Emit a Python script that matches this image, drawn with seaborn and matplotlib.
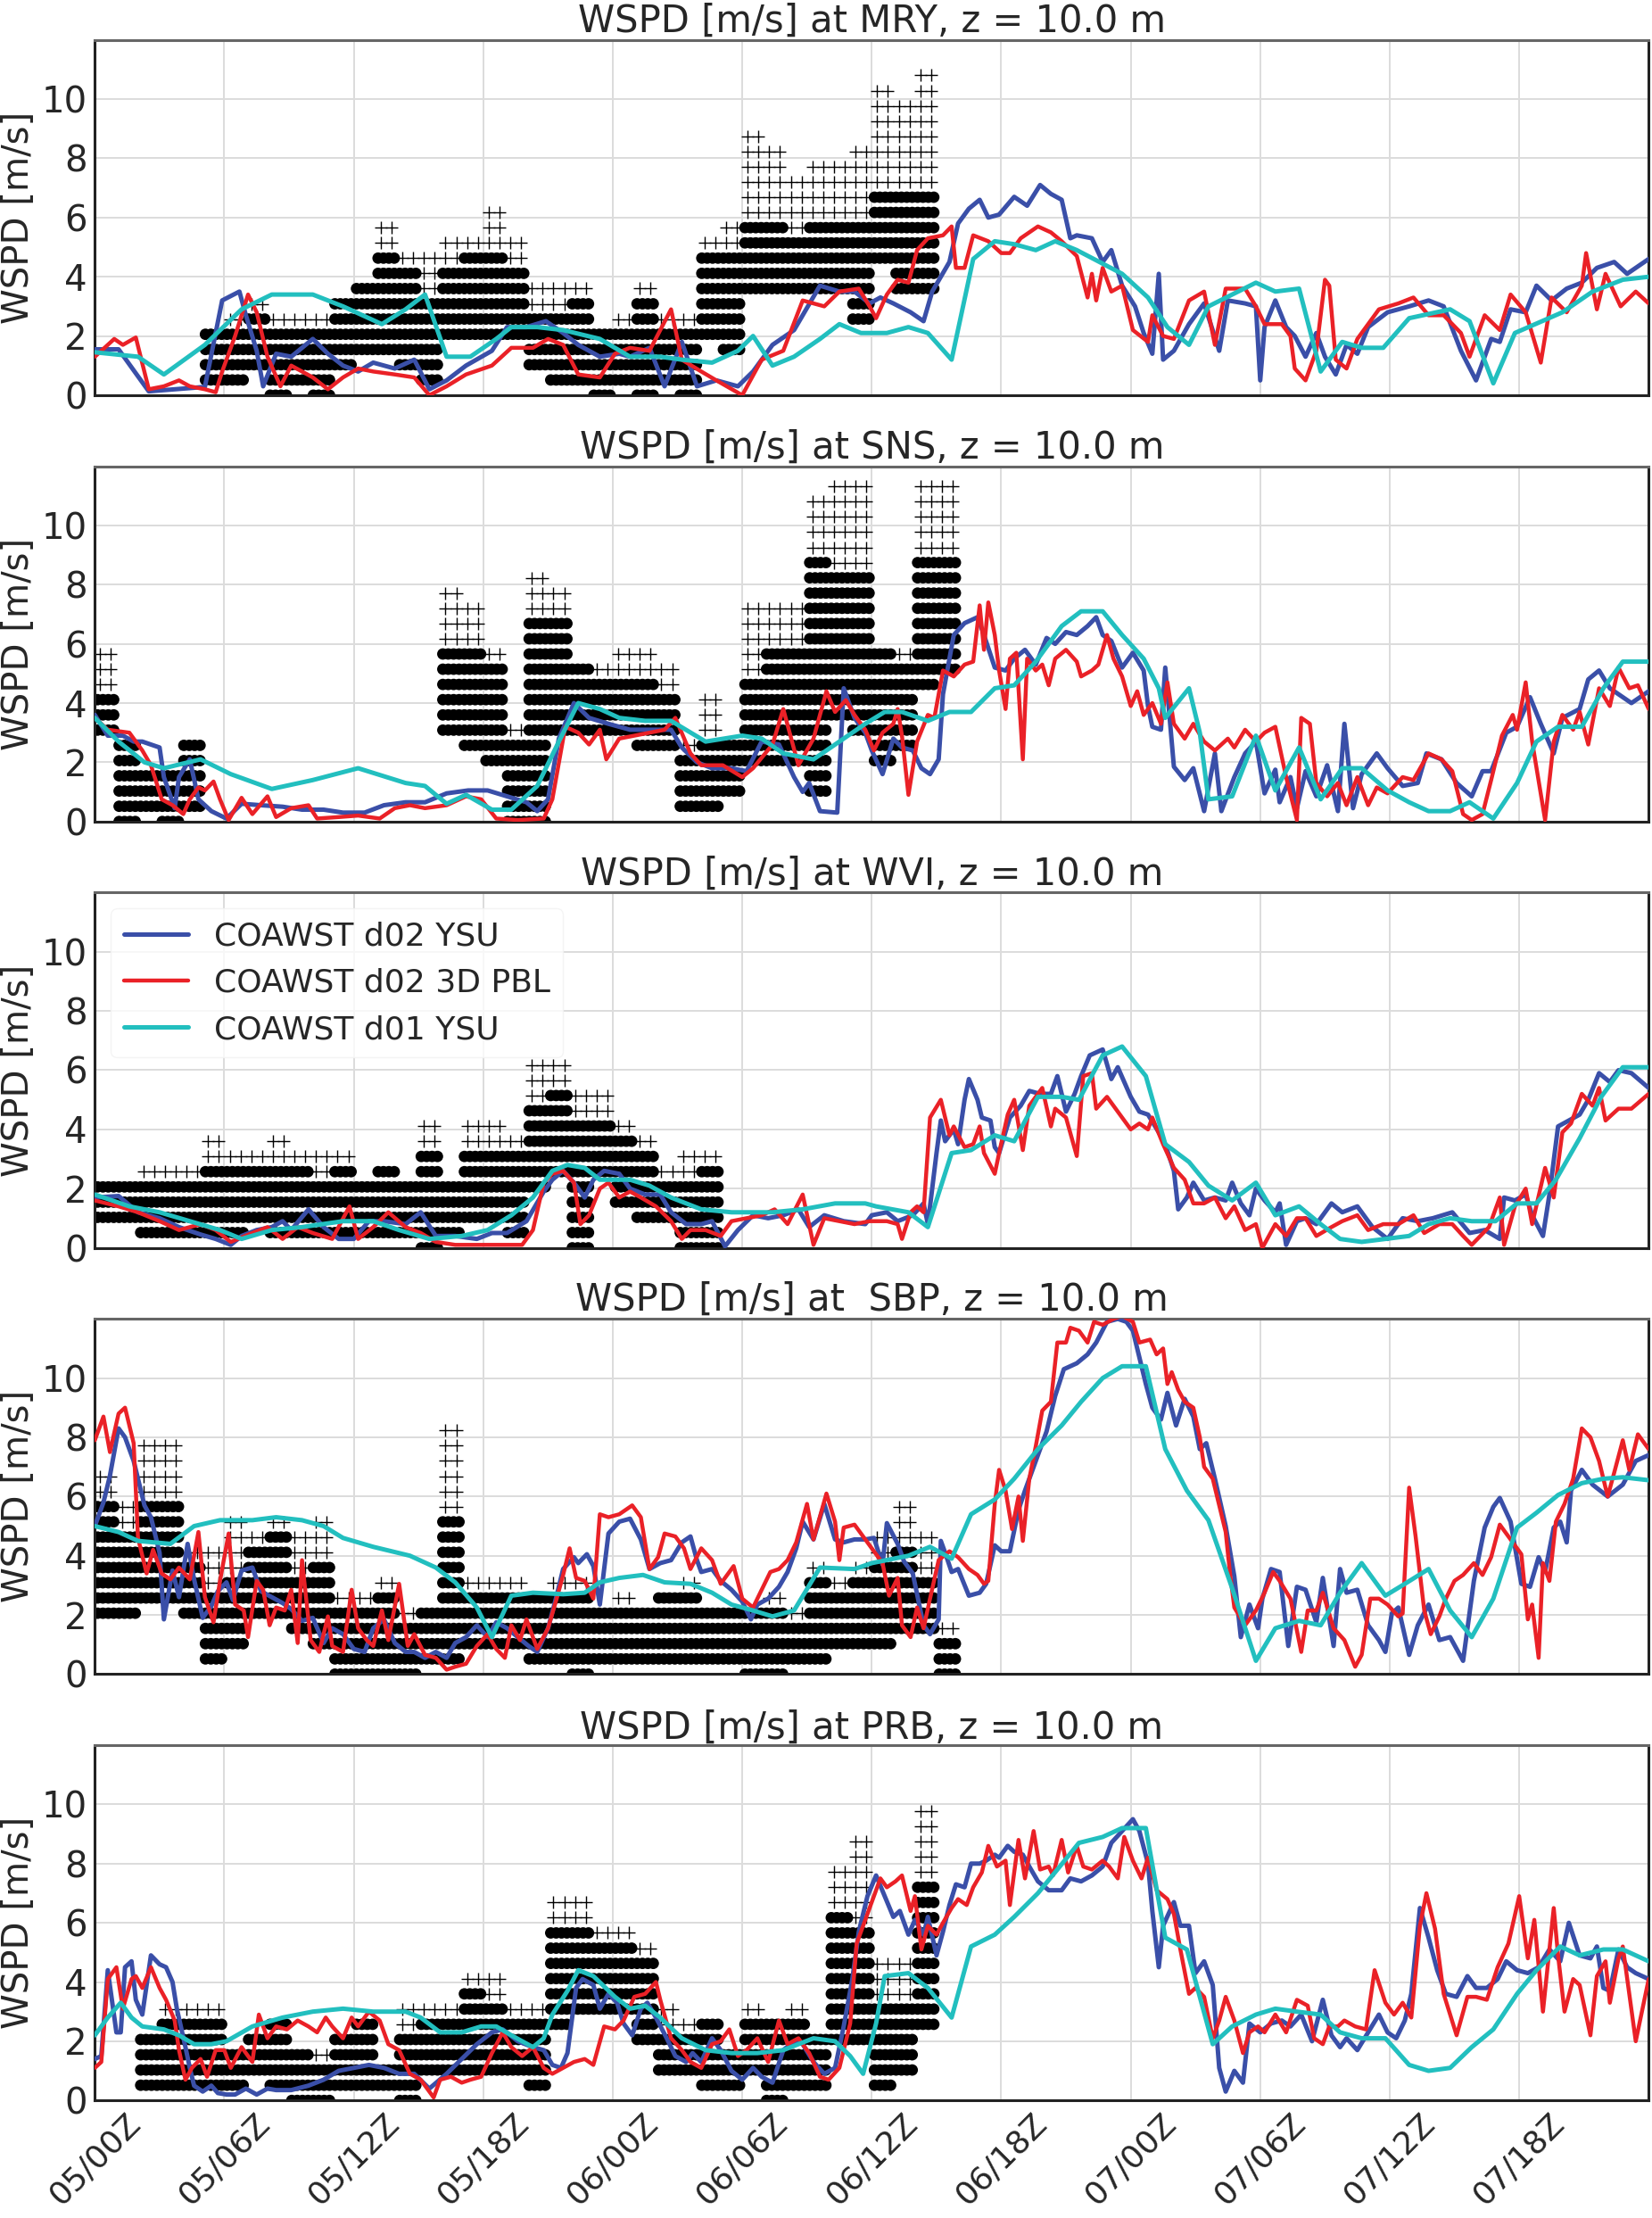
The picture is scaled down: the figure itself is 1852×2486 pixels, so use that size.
import numpy as np
import pandas as pd
import seaborn as sns
import matplotlib
matplotlib.use("Agg")
import matplotlib.pyplot as plt

KT = 0.5144  # obs are whole knots

stations = ["MRY", "SNS", "WVI", "SBP", "PRB"]
titles = ["WSPD [m/s] at MRY, z = 10.0 m", "WSPD [m/s] at SNS, z = 10.0 m",
          "WSPD [m/s] at WVI, z = 10.0 m", "WSPD [m/s] at  SBP, z = 10.0 m",
          "WSPD [m/s] at PRB, z = 10.0 m"]
xtick_hours = [0, 6, 12, 18, 24, 30, 36, 42, 48, 54, 60, 66]
xtick_labels = ["05/00Z", "05/06Z", "05/12Z", "05/18Z", "06/00Z", "06/06Z",
                "06/12Z", "06/18Z", "07/00Z", "07/06Z", "07/12Z", "07/18Z"]
series_names = ["COAWST d02 YSU", "COAWST d02 3D PBL", "COAWST d01 YSU"]
series_colors = ["#3a4fa8", "#ea2127", "#22bfbf"]

## observations: hourly bins, dot range (knots) and gust top (knots)
mry_obs_hr = list(range(5, 39))
mry_obs_lo = [1, 1, 2, 0, 1, 0, 2, 3, 3, 2, 1, 4, 4, 4, 4, 2, 1, 1, 0, 1, 0, 1, 0, 4, 3, 7, 7, 7, 7, 7, 5, 9, 7, 7]
mry_obs_hi = [4, 4, 5, 4, 4, 4, 6, 7, 9, 8, 6, 8, 9, 9, 8, 5, 5, 6, 4, 4, 6, 4, 4, 9, 9, 11, 11, 10, 11, 11, 11, 13, 13, 13]
mry_obs_gust = [4, 5, 6, 5, 5, 5, 6, 7, 11, 9, 9, 10, 10, 12, 10, 7, 7, 7, 4, 5, 7, 5, 5, 10, 11, 17, 16, 14, 15, 15, 16, 20, 19, 21]

sns_obs_hr = [0, 1, 2, 3, 4] + list(range(16, 40))
sns_obs_lo = [6, 0, 1, 0, 1, 6, 5, 4, 0, 0, 6, 6, 6, 6, 5, 5, 1, 1, 2, 4, 4, 4, 2, 7, 6, 4, 5, 9, 10]
sns_obs_hi = [8, 5, 3, 3, 5, 11, 11, 10, 5, 13, 13, 10, 9, 9, 9, 8, 4, 5, 5, 9, 11, 11, 17, 16, 16, 11, 10, 17, 17]
sns_obs_gust = [11, 5, 3, 3, 5, 15, 14, 11, 6, 16, 15, 10, 10, 11, 11, 10, 5, 8, 5, 14, 14, 14, 21, 22, 22, 11, 11, 22, 22]

wvi_obs_hr = list(range(0, 29))
wvi_obs_lo = [2, 2, 1, 1, 1, 1, 1, 2, 1, 1, 1, 1, 1, 1, 1, 0, 1, 2, 2, 1, 4, 5, 0, 5, 3, 2, 2, 0, 0]
wvi_obs_hi = [4, 4, 4, 4, 4, 5, 5, 5, 5, 5, 4, 5, 4, 5, 4, 6, 4, 6, 6, 6, 9, 10, 8, 8, 7, 6, 4, 4, 5]
wvi_obs_gust = [4, 4, 5, 5, 5, 7, 6, 6, 7, 6, 6, 6, 4, 5, 4, 8, 4, 8, 8, 7, 12, 12, 10, 10, 8, 7, 5, 6, 6]

sbp_obs_hr = list(range(0, 40))
sbp_obs_lo = [4, 4, 5, 5, 4, 1, 2, 4, 4, 3, 2, 0, 0, 0, 0, 1, 1, 2, 2, 2,
              1, 1, 0, 1, 1, 1, 1, 1, 1, 1, 0, 0, 1, 1, 2, 2, 2, 3, 3, 0]
sbp_obs_hi = [11, 9, 11, 11, 7, 5, 6, 8, 9, 6, 7, 4, 4, 5, 3, 4, 10, 5, 5, 5,
              5, 5, 5, 4, 4, 4, 5, 5, 4, 4, 4, 4, 3, 6, 5, 6, 7, 8, 6, 2]
sbp_obs_gust = [13, 11, 15, 15, 8, 8, 10, 9, 10, 9, 10, 5, 5, 6, 4, 4, 16, 6, 6, 6,
                5, 6, 6, 4, 5, 4, 5, 6, 4, 4, 4, 5, 4, 7, 6, 7, 9, 11, 9, 3]

prb_obs_hr = list(range(2, 39))
prb_obs_lo = [1, 1, 1, 1, 1, 2, 1, 0, 0, 1, 1, 1, 0, 2, 2, 2, 2, 2, 1, 5, 6, 6, 6, 4, 2, 2, 1, 1, 2, 0, 1, 1, 4, 4, 1, 2, 5]
prb_obs_hi = [4, 5, 5, 5, 3, 4, 5, 3, 2, 4, 5, 2, 4, 5, 5, 7, 6, 5, 5, 11, 11, 10, 10, 9, 4, 4, 5, 3, 5, 5, 5, 4, 12, 11, 6, 6, 14]
prb_obs_gust = [4, 6, 6, 6, 3, 4, 5, 3, 3, 4, 5, 2, 6, 6, 6, 8, 8, 6, 6, 13, 13, 11, 11, 10, 6, 5, 5, 3, 6, 5, 6, 4, 15, 17, 9, 9, 19]

## model series: (hour after 05/00Z, m/s)
mry_d02_ysu = [(0, 1.55), (1.1, 1.55), (2.5, 0.13), (5.1, 0.28), (5.9, 3.2), (6.7, 3.5), (7, 2.7), (7.5, 1.5),
               (7.8, 0.3), (8.4, 1.4), (9.1, 1.3), (10.1, 1.9), (10.8, 1.4), (11.5, 1.0), (12.2, 0.8), (12.9, 1.1),
               (13.9, 0.9), (14.8, 1.2), (15.5, 0.2), (16.3, 0.5), (17.2, 1.0), (18.4, 1.5), (19.1, 2.3), (20, 2.3),
               (20.9, 2.5), (21.7, 2.1), (22.4, 1.7), (23.4, 1.3), (24.3, 1.4), (24.8, 1.3), (25.7, 1.6), (26.4, 0.3),
               (27.2, 1.8), (27.9, 0.3), (28.8, 0.5), (29.8, 0.3), (30.5, 0.8), (31.4, 1.7), (32.4, 2.2), (33.6, 3.7),
               (34.5, 3.5), (35.2, 3.5), (35.9, 3.1), (36.4, 3.3), (37, 3.1), (37.8, 2.8), (38.4, 2.5), (38.8, 3.5),
               (39.6, 4.5), (40, 5.8), (40.5, 6.3), (41, 6.6), (41.4, 6.0), (41.9, 6.1), (42.6, 6.7), (43.2, 6.4),
               (43.8, 7.1), (44.3, 6.8), (44.8, 6.6), (45.2, 5.3), (45.5, 5.4), (46.2, 5.3), (46.7, 4.5), (47.1, 4.9),
               (47.6, 3.7), (48.2, 3.0), (48.6, 2.1), (49, 1.4), (49.3, 4.1), (49.5, 1.2), (50, 1.5), (50.7, 2.4),
               (51.4, 3.1), (52.1, 1.5), (52.5, 3.2), (53.3, 3.1), (53.8, 3.0), (54, 0.5), (54.2, 2.3), (54.7, 3.2),
               (55.2, 2.3), (55.6, 2.0), (56.1, 1.3), (56.6, 2.1), (57, 1.3), (57.5, 0.7), (58, 1.7), (58.5, 1.4),
               (59, 2.3), (59.9, 2.8), (60.9, 3.0), (61.8, 3.2), (62.5, 3.0), (63.3, 1.5), (64, 0.5), (64.7, 1.9),
               (65.1, 1.8), (65.6, 2.9), (66.3, 2.8), (66.8, 3.7), (67.5, 3.2), (68.2, 3.6), (68.9, 3.8), (69.6, 4.3),
               (70.4, 4.5), (71, 4.1), (72, 4.6)]
mry_d02_3d = [(0, 1.3), (0.9, 1.9), (1.3, 1.7), (1.9, 1.95), (2.5, 0.2), (3.2, 0.3), (3.9, 0.5), (4.4, 0.3), (5.1, 0.2),
              (5.6, 0.1), (5.9, 0.8), (6.5, 2.0), (7.1, 3.4), (7.5, 2.8), (8, 1.3), (8.6, 0.3), (9.1, 1.0), (10.1, 0.6),
              (10.8, 0.2), (11.5, 0.6), (12.2, 0.9), (12.9, 0.8), (13.9, 0.7), (14.8, 0.6), (15.5, 0.0), (16.3, 0.3),
              (17.2, 0.7), (18.4, 1.0), (19.3, 1.6), (20.3, 1.6), (21, 1.9), (21.7, 1.7), (22.4, 0.7), (23.4, 0.6),
              (24.1, 1.4), (24.8, 1.6), (25.7, 1.5), (26.7, 2.9), (27.2, 1.2), (28.1, 0.8), (28.8, 0.5), (30, 0.0),
              (30.9, 1.2), (31.9, 1.5), (32.8, 3.2), (33.8, 3.0), (34.5, 3.5), (35.4, 3.6), (35.9, 3.0), (36.2, 2.6),
              (36.7, 3.4), (37.2, 3.9), (37.7, 3.8), (38.1, 4.9), (38.6, 5.3), (39.3, 5.4), (39.7, 5.7), (39.9, 4.3),
              (40.3, 4.3), (40.7, 5.4), (41.4, 5.2), (42, 4.8), (42.4, 4.8), (42.9, 5.3), (43.7, 5.7), (44.3, 5.5),
              (44.8, 5.2), (45.5, 4.7), (46, 3.3), (46.2, 4.1), (46.4, 3.2), (46.7, 4.3), (47.1, 3.5), (47.6, 3.7),
              (48.1, 2.2), (48.8, 1.8), (49, 2.7), (49.5, 2.0), (50, 1.9), (50.7, 3.2), (51.4, 3.5), (51.9, 1.7),
              (52.4, 3.6), (53.3, 3.6), (53.8, 3.0), (54.2, 2.4), (55, 2.4), (55.4, 2.0), (55.6, 0.9), (56.1, 0.5),
              (56.6, 1.5), (57, 3.9), (57.2, 3.7), (57.5, 1.2), (58, 0.9), (58.5, 1.9), (59.5, 2.9), (60.4, 3.1),
              (61.1, 3.3), (61.8, 2.7), (62.5, 2.7), (63.3, 2.1), (63.7, 1.3), (64.4, 2.7), (65.1, 2.2), (65.6, 3.4),
              (66.3, 2.8), (67, 1.1), (67.5, 3.3), (68.2, 2.8), (68.9, 3.7), (69.1, 4.8), (69.6, 2.9), (70, 4.1),
              (70.7, 3.0), (71.4, 3.5), (72, 3.1)]
mry_d01_ysu = [(0, 1.45), (2, 1.3), (3.2, 0.7), (5.1, 1.7), (6.8, 2.9), (8.2, 3.4), (10.1, 3.4), (11.5, 3.0), (13.3, 2.4),
               (14.4, 2.9), (15.3, 3.4), (16.3, 1.3), (17.4, 1.3), (18.6, 1.9), (19.3, 2.3), (20.5, 2.3), (21.7, 2.2),
               (23.4, 1.9), (24.8, 1.3), (26.2, 1.3), (27.2, 1.2), (28.6, 1.1), (29.8, 1.5), (30.5, 2.0), (31.4, 1.0),
               (32.4, 1.3), (33.6, 1.9), (34.5, 2.4), (35.5, 2.1), (36.7, 2.1), (37.7, 2.3), (38.6, 2.1), (39.7, 1.2),
               (40.7, 4.6), (41.7, 5.2), (42.6, 5.1), (43.6, 4.9), (44.5, 5.2), (45.5, 4.9), (47.6, 4.1), (48.8, 3.3),
               (49.7, 2.3), (50.7, 1.7), (51.6, 3.0), (53.8, 3.8), (54.7, 3.5), (55.8, 3.6), (56.8, 0.8), (57.8, 1.8),
               (58.7, 1.6), (59.7, 1.6), (60.9, 2.6), (62.8, 2.9), (63.7, 2.5), (64.8, 0.4), (65.8, 2.1), (68, 2.8),
               (69.4, 3.5), (70.8, 3.9), (72, 4.0)]

sns_d02_ysu = [(0, 3.6), (0.6, 2.9), (1.3, 2.9), (1.8, 2.7), (2.2, 2.7), (3, 2.5), (3.2, 1.5), (3.7, 0.45), (3.9, 1.5),
               (4.4, 2.1), (4.8, 0.75), (5.4, 0.35), (6.1, 0.1), (6.8, 0.6), (7.7, 0.55), (8.7, 0.5), (9.6, 0.4),
               (10.6, 0.4), (11.5, 0.3), (12.5, 0.3), (13.4, 0.55), (14.4, 0.65), (15.3, 0.65), (16.3, 0.95), (17.3, 1.05),
               (18.2, 1.05), (19.1, 0.85), (20, 0.65), (20.5, 0.35), (21, 0.75), (21.5, 2.8), (22.2, 4.0), (22.9, 3.5),
               (23.8, 3.3), (24.8, 3.1), (25.7, 3.1), (26.7, 3.1), (27.2, 2.5), (27.9, 2.0), (28.6, 1.8), (29.5, 1.8),
               (30.2, 1.7), (30.9, 2.7), (31.7, 2.6), (32.4, 1.5), (32.8, 1.0), (33.1, 1.3), (33.6, 0.35), (34.4, 0.3),
               (34.7, 4.5), (35.2, 3.5), (35.7, 3.0), (36, 2.4), (36.5, 1.6), (37, 2.8), (37.4, 2.5), (37.9, 2.4),
               (38.3, 1.8), (38.7, 1.6), (39.1, 2.1), (39.3, 4.3), (39.8, 6.3), (40.3, 6.7), (40.9, 6.9), (41.2, 6.3),
               (41.7, 5.2), (42.2, 5.1), (42.6, 5.5), (43.1, 5.8), (43.6, 5.3), (44.1, 6.2), (44.5, 6.0), (45, 6.4),
               (45.5, 6.3), (46, 6.6), (46.4, 6.9), (46.7, 6.3), (47.1, 6.1), (47.6, 5.2), (48.1, 5.7), (48.6, 5.1),
               (48.8, 3.9), (49, 3.2), (49.4, 3.1), (49.6, 5.2), (50, 1.85), (50.5, 1.4), (50.9, 1.8), (51.4, 0.35),
               (51.9, 2.3), (52.2, 0.35), (52.8, 1.5), (53.3, 2.3), (53.8, 2.7), (54.2, 0.95), (54.7, 1.75), (54.9, 0.65),
               (55.4, 1.5), (55.7, 0.45), (56.1, 1.7), (56.6, 0.85), (57.1, 1.9), (57.6, 0.35), (57.9, 3.3), (58.3, 0.45),
               (58.7, 1.6), (59.4, 2.3), (59.9, 1.8), (60.6, 1.2), (61.3, 1.3), (61.7, 2.3), (62.4, 2.1), (63.1, 1.3),
               (63.8, 0.85), (64.3, 1.7), (64.7, 1.7), (65.4, 3.0), (65.9, 3.2), (66.5, 4.2), (67, 3.3), (67.6, 2.3),
               (68, 3.5), (68.8, 3.8), (69.2, 4.8), (69.7, 5.1), (70.2, 4.5), (70.6, 4.3), (71.2, 4.0), (72, 4.4)]
sns_d02_3d = [(0, 3.5), (0.6, 3.1), (1.6, 3.0), (2.2, 2.4), (2.6, 1.9), (3.1, 0.75), (3.6, 0.55), (4.1, 0.25), (4.4, 0.75),
              (4.8, 1.15), (5.1, 1.05), (5.5, 1.35), (5.8, 0.75), (6.2, 0.05), (6.8, 0.8), (7.3, 0.25), (8, 0.85), (8.4, 0.15),
              (9.1, 0.45), (9.9, 0.55), (10.3, 0.1), (11.3, 0.15), (12.2, 0.2), (13.2, 0.1), (13.9, 0.45), (14.6, 0.55),
              (15.3, 0.45), (16.3, 0.55), (17.2, 0.85), (17.9, 0.75), (18.6, 0.1), (19.6, 0.05), (20.8, 0.1), (21.2, 0.75),
              (21.8, 3.2), (22.4, 3.0), (22.9, 2.6), (23.4, 3.1), (23.7, 2.1), (24.3, 2.8), (25, 2.9), (25.7, 3.0),
              (26.4, 3.1), (26.9, 3.5), (27.6, 2.3), (28.1, 1.9), (29.1, 1.9), (30, 1.5), (30.5, 1.8), (31.4, 2.6),
              (31.9, 3.8), (32.6, 1.9), (33.3, 2.8), (33.9, 4.4), (34.3, 3.7), (34.8, 4.1), (35.2, 3.6), (35.7, 3.1),
              (36.1, 2.4), (36.5, 3.0), (37, 3.3), (37.2, 3.8), (37.4, 2.9), (37.7, 0.9), (38.1, 2.7), (38.6, 3.6),
              (38.9, 3.5), (39.3, 5.1), (39.8, 4.9), (40.3, 5.3), (40.7, 5.4), (41, 7.3), (41.2, 5.8), (41.4, 7.4),
              (41.7, 6.3), (41.9, 5.1), (42.2, 3.8), (42.4, 5.5), (42.7, 5.7), (43, 2.1), (43.2, 5.5), (43.6, 5.1),
              (43.9, 5.3), (44.2, 4.6), (44.5, 5.5), (45, 5.8), (45.5, 5.4), (45.7, 4.9), (46.2, 5.1), (46.5, 5.3),
              (46.9, 6.3), (47.2, 5.5), (47.6, 4.9), (48, 3.9), (48.3, 4.4), (48.6, 3.6), (49, 4.0), (49.4, 3.3),
              (49.7, 4.7), (50, 3.3), (50.5, 2.8), (50.9, 3.3), (51.4, 2.7), (51.9, 2.4), (52.5, 2.8), (52.8, 2.5),
              (53.3, 3.1), (53.8, 2.7), (54.2, 3.0), (54.7, 3.2), (55.2, 1.5), (55.7, 0.05), (55.9, 3.5), (56.3, 3.3),
              (56.6, 1.3), (57.1, 0.85), (57.6, 1.3), (58, 0.55), (58.5, 1.5), (59, 0.55), (59.4, 1.15), (59.9, 0.95),
              (60.6, 1.5), (61.1, 1.4), (61.8, 2.3), (62.4, 2.1), (62.9, 1.7), (63.4, 0.25), (63.8, 0.05), (64.3, 0.25),
              (64.7, 1.4), (65.2, 2.9), (65.7, 3.6), (65.9, 3.1), (66.3, 4.7), (66.6, 2.7), (67.2, 0.05), (67.6, 2.7),
              (68, 3.6), (68.5, 3.1), (68.8, 3.7), (69.2, 2.6), (69.7, 4.5), (70.2, 3.9), (70.6, 5.2), (71.1, 4.5),
              (71.5, 4.6), (72, 3.8)]
sns_d01_ysu = [(0, 3.5), (1.1, 2.7), (2.3, 2.0), (3.2, 1.8), (4.9, 2.1), (6.3, 1.6), (8.2, 1.1), (10.1, 1.4), (12.2, 1.8),
               (14.4, 1.3), (15.3, 1.2), (16.3, 0.6), (17.2, 0.9), (18.4, 0.4), (19.3, 0.4), (20.5, 1.2), (21.5, 2.7),
               (22.4, 4.0), (23.4, 3.8), (24.3, 3.5), (25.5, 3.4), (26.7, 3.4), (28.3, 2.7), (30, 2.9), (30.9, 2.8),
               (31.9, 2.3), (33.3, 2.1), (34.3, 2.6), (35.7, 3.3), (36.6, 3.7), (37.4, 3.7), (38.6, 3.4), (39.6, 3.7),
               (40.6, 3.7), (41.7, 4.5), (42.6, 4.6), (43.6, 5.4), (44.8, 6.6), (45.7, 7.1), (46.7, 7.1), (47.6, 6.3),
               (48.6, 5.5), (49.3, 4.5), (49.6, 3.5), (50.7, 4.5), (51.2, 3.0), (51.6, 0.75), (52.7, 0.85), (53.8, 2.9),
               (54.7, 1.05), (55.8, 2.5), (56.8, 0.75), (57.8, 1.8), (58.7, 1.8), (59.9, 1.05), (60.9, 0.65), (61.8, 0.35),
               (62.8, 0.35), (63.7, 0.65), (64.8, 0.1), (65.9, 1.3), (66.8, 2.7), (67.8, 3.2), (68.9, 3.2), (69.9, 4.5),
               (70.8, 5.4), (72, 5.4)]

wvi_d02_ysu = [(0, 1.7), (1.1, 1.75), (2, 1.2), (3, 1.0), (3.9, 0.7), (4.9, 0.45), (5.6, 0.3), (6.3, 0.1), (6.8, 0.4),
               (7.5, 0.6), (8.2, 0.7), (8.7, 0.9), (9.1, 0.6), (9.9, 1.3), (10.6, 0.7), (11.3, 0.3), (12, 0.3), (12.7, 0.9),
               (13.4, 0.9), (14.4, 0.8), (15.1, 1.2), (15.8, 0.4), (16.7, 0.4), (17.7, 0.3), (18.4, 0.5), (19.1, 0.5),
               (20, 0.9), (20.8, 1.9), (21.2, 2.3), (21.7, 2.6), (22.2, 2.2), (22.7, 1.7), (23.1, 2.3), (23.6, 2.6),
               (24.3, 2.5), (24.8, 2.0), (25.5, 1.8), (26.2, 1.8), (26.7, 1.2), (27.4, 0.8), (28.1, 0.8), (28.6, 0.9),
               (29.2, 0.05), (29.8, 0.6), (30.5, 1.1), (31.2, 1.0), (31.9, 1.1), (32.6, 1.3), (33.1, 0.7), (33.8, 1.1),
               (34.7, 0.9), (35.7, 0.8), (36, 1.1), (36.7, 1.2), (37.2, 0.9), (37.9, 1.1), (38.4, 1.5), (38.6, 0.8),
               (39, 3.2), (39.2, 4.3), (39.4, 3.6), (39.8, 4.0), (40, 3.5), (40.3, 5.0), (40.5, 5.7), (40.9, 5.0),
               (41.1, 4.4), (41.5, 4.3), (41.7, 3.4), (41.9, 3.2), (42.4, 4.4), (42.9, 4.8), (43.3, 5.3), (43.8, 5.2),
               (44.3, 5.2), (44.6, 5.8), (45, 4.6), (45.4, 5.2), (45.7, 5.8), (46.1, 6.5), (46.4, 6.6), (46.7, 6.7),
               (47.1, 5.7), (47.4, 6.1), (48, 5.1), (48.4, 4.6), (48.8, 4.5), (49.3, 3.9), (49.6, 3.5), (50, 2.6),
               (50.2, 1.3), (50.6, 1.7), (50.9, 2.2), (51.4, 1.6), (51.9, 1.7), (52.4, 1.6), (52.7, 2.2), (53.1, 1.5),
               (53.5, 1.1), (53.8, 2.0), (54.2, 1.6), (54.7, 1.2), (54.9, 1.5), (55.2, 0.1), (55.7, 0.9), (56.1, 1.0),
               (56.6, 0.8), (57.3, 1.5), (57.8, 1.2), (58.5, 1.4), (59.2, 0.7), (59.9, 0.3), (60.6, 1.0), (61.3, 0.9),
               (62, 1.0), (62.9, 1.2), (63.7, 0.5), (64.4, 0.6), (65.1, 0.3), (65.3, 1.7), (65.8, 1.6), (66.3, 1.8),
               (66.6, 1.1), (67.1, 0.4), (67.4, 1.8), (67.8, 4.1), (68.3, 4.3), (68.8, 4.5), (69.2, 5.0), (69.7, 5.9),
               (70.2, 5.6), (70.6, 6.0), (71.2, 5.9), (72, 5.4)]
wvi_d02_3d = [(0, 1.6), (1.1, 1.4), (2, 1.2), (3, 0.9), (3.9, 0.6), (4.9, 0.8), (5.6, 0.6), (6.3, 0.2), (7.3, 0.5), (8, 0.7),
              (8.7, 0.3), (9.4, 0.7), (10.1, 0.5), (11, 0.3), (11.8, 1.4), (12.2, 0.3), (12.9, 0.7), (13.6, 1.2), (14.4, 0.7),
              (15.1, 0.5), (15.8, 0.2), (16.7, 0.1), (17.7, 0.1), (18.6, 0.1), (19.8, 0.1), (20.3, 0.6), (20.8, 2.2),
              (21.2, 2.5), (21.7, 2.6), (22.2, 2.2), (22.5, 0.8), (22.9, 1.1), (23.4, 2.0), (23.8, 2.2), (24.3, 1.7),
              (24.8, 1.9), (25.3, 1.7), (26, 1.4), (26.7, 0.9), (27.2, 0.3), (27.6, 0.6), (28.3, 0.6), (29, 0.4), (29.5, 0.9),
              (30.2, 1.0), (30.9, 1.1), (31.5, 1.3), (32.1, 0.8), (32.8, 1.8), (33.3, 0.1), (33.8, 1.0), (34.5, 0.9),
              (35.2, 0.8), (35.9, 0.9), (36.7, 0.9), (37.2, 0.8), (37.4, 0.3), (37.8, 1.2), (38.1, 1.4), (38.4, 1.2),
              (38.7, 4.4), (39.2, 5.0), (39.6, 3.8), (39.8, 4.1), (40.3, 3.4), (40.7, 3.5), (41, 4.1), (41.2, 3.2),
              (41.7, 2.5), (41.9, 3.2), (42.3, 4.5), (42.6, 5.0), (43, 3.3), (43.3, 4.8), (43.9, 5.4), (44.3, 4.1),
              (44.5, 4.7), (45, 4.4), (45.5, 3.1), (45.8, 5.8), (46.2, 5.9), (46.4, 4.7), (46.9, 5.1), (47.4, 4.6),
              (48, 4.0), (48.4, 4.2), (48.8, 4.0), (49, 4.4), (49.5, 3.5), (50, 2.7), (50.5, 2.3), (50.9, 1.5), (51.4, 1.5),
              (51.9, 1.7), (52.4, 1.0), (52.8, 1.4), (53.3, 0.6), (53.8, 0.8), (54.1, 0.0), (54.7, 0.8), (55.2, 0.4),
              (55.7, 1.0), (56.1, 1.0), (56.6, 0.4), (57.3, 0.7), (57.8, 0.9), (58.5, 1.1), (59, 0.6), (59.7, 0.8),
              (60.4, 0.8), (61.1, 1.1), (61.6, 0.5), (62.3, 0.8), (62.9, 0.8), (63.4, 0.4), (63.8, 0.1), (64.6, 0.7),
              (65.1, 1.7), (65.3, 0.1), (65.8, 1.4), (66.3, 2.0), (66.6, 0.8), (67.2, 2.7), (67.6, 1.7), (68, 3.9),
              (68.4, 4.2), (68.9, 5.2), (69.4, 4.8), (69.7, 5.4), (70, 4.3), (70.6, 4.7), (71.2, 4.7), (72, 5.2)]
wvi_d01_ysu = [(0, 1.8), (1.6, 1.4), (3, 1.2), (4.4, 0.9), (5.8, 0.6), (6.8, 0.3), (8.2, 0.6), (9.6, 0.7), (11.5, 0.9),
               (12.9, 0.9), (14.1, 0.6), (15.5, 0.3), (17, 0.4), (18.2, 0.6), (19.3, 1.1), (20.3, 1.7), (21.2, 2.6),
               (21.9, 2.8), (22.7, 2.7), (23.4, 2.3), (24.8, 2.3), (25.7, 2.1), (26.7, 1.7), (28.1, 1.3), (29.5, 1.2),
               (31.4, 1.2), (32.8, 1.3), (34.3, 1.5), (35.7, 1.5), (36.2, 1.4), (37.7, 1.2), (38.6, 0.7), (39.7, 3.2),
               (40.6, 3.3), (41.7, 3.8), (42.6, 3.6), (43.7, 5.1), (44.8, 5.1), (45.6, 5.0), (46.7, 6.5), (47.6, 6.8),
               (48.7, 5.8), (49.6, 3.5), (50.7, 2.9), (51.6, 2.1), (52.7, 1.6), (53.8, 2.2), (54.7, 1.1), (55.8, 1.4),
               (56.8, 0.8), (57.7, 0.3), (58.7, 0.2), (59.8, 0.3), (60.9, 0.4), (61.8, 0.8), (62.8, 1.0), (63.8, 0.9),
               (64.9, 0.9), (65.9, 1.5), (66.8, 1.5), (67.7, 2.3), (68.8, 3.7), (69.8, 5.1), (70.8, 6.1), (72, 6.1)]

sbp_d02_ysu = [(0, 5.0), (0.4, 5.8), (0.7, 6.7), (1.1, 8.3), (1.4, 8.0), (1.8, 7.2), (2, 6.6), (2.3, 5.7), (2.6, 5.3),
               (3, 4.1), (3.2, 1.85), (3.6, 3.5), (3.9, 2.6), (4.3, 4.4), (4.6, 3.2), (5, 1.9), (5.4, 2.3), (5.7, 2.8),
               (6.1, 3.1), (6.4, 2.5), (6.8, 3.5), (7.3, 3.6), (7.7, 2.8), (8.2, 2.6), (8.7, 2.4), (9.1, 2.2), (9.6, 1.8),
               (10.1, 1.9), (10.6, 1.05), (11, 1.55), (11.5, 1.35), (12, 0.85), (12.5, 0.75), (12.9, 1.55), (13.4, 1.85),
               (13.9, 1.05), (14.4, 0.75), (14.8, 0.75), (15.3, 0.55), (15.8, 0.75), (16.3, 0.55), (16.7, 1.05),
               (17.2, 1.25), (17.7, 1.65), (18.2, 1.25), (18.6, 1.75), (19.1, 1.55), (19.6, 1.25), (20.1, 0.95),
               (20.5, 0.75), (21, 1.55), (21.4, 2.65), (21.7, 3.55), (22.2, 3.95), (22.4, 3.75), (22.8, 4.05), (23.1, 3.65),
               (23.4, 2.35), (23.8, 4.75), (24.3, 5.15), (24.8, 5.25), (25.3, 4.55), (25.7, 3.55), (26.2, 3.75),
               (26.7, 3.85), (27.2, 4.45), (27.6, 4.65), (27.9, 3.85), (28.1, 3.45), (28.6, 3.55), (29, 3.15), (29.5, 2.85),
               (30, 2.45), (30.4, 1.85), (30.7, 2.35), (31.2, 2.55), (31.7, 2.95), (32.1, 3.45), (32.5, 4.25), (32.8, 5.15),
               (33.3, 4.55), (33.8, 5.75), (34.3, 4.55), (34.7, 4.45), (35.2, 4.55), (35.7, 4.55), (36.1, 4.6), (36.5, 3.7),
               (36.7, 5.1), (37.2, 4.4), (37.5, 3.8), (37.9, 3.4), (38.4, 1.65), (38.7, 1.35), (39.1, 1.85), (39.2, 4.5),
               (39.4, 4.1), (39.7, 3.45), (40, 3.55), (40.5, 2.65), (41, 2.75), (41.3, 3.05), (41.7, 4.35), (42, 4.15),
               (42.4, 4.15), (42.8, 5.55), (43.1, 6.2), (43.6, 7.2), (44.1, 8.2), (44.5, 9.4), (44.9, 10.3), (45.5, 10.5),
               (46, 10.8), (46.4, 11.2), (46.9, 11.9), (47.4, 12.0), (47.8, 11.9), (48.1, 11.6), (48.4, 10.7), (48.7, 9.8),
               (49, 9.0), (49.4, 8.6), (49.7, 9.5), (50.1, 8.4), (50.5, 9.3), (50.9, 8.7), (51.2, 7.6), (51.5, 7.8),
               (51.9, 6.6), (52.4, 5.0), (52.8, 3.3), (53.1, 1.25), (53.5, 2.35), (53.9, 1.55), (54.1, 2.55), (54.5, 3.55),
               (54.9, 3.45), (55.3, 0.95), (55.7, 2.95), (56.1, 2.85), (56.6, 1.75), (56.9, 3.25), (57.4, 0.95),
               (57.7, 3.55), (58, 2.75), (58.5, 2.85), (59, 1.65), (59.5, 1.15), (59.8, 0.75), (60.1, 2.05), (60.4, 2.25),
               (60.9, 0.65), (61.3, 1.65), (61.8, 2.35), (62.3, 1.15), (62.8, 1.25), (63.4, 0.45), (63.9, 3.15),
               (64.4, 4.95), (64.8, 5.65), (65.1, 5.95), (65.6, 5.15), (66.1, 3.05), (66.5, 2.95), (66.9, 3.95),
               (67.2, 3.45), (67.6, 4.95), (67.9, 5.15), (68.2, 4.45), (68.4, 6.2), (68.9, 6.9), (69.4, 6.4), (70.1, 6.0),
               (70.8, 6.4), (71.4, 7.2), (72, 7.4)]
sbp_d02_3d = [(0, 7.9), (0.4, 8.7), (0.7, 7.5), (1.1, 8.8), (1.4, 9.0), (1.8, 7.8), (2, 4.6), (2.4, 3.4), (2.7, 4.2),
              (3.1, 3.4), (3.5, 3.2), (3.9, 3.6), (4.4, 3.2), (4.8, 4.8), (5.1, 2.6), (5.5, 1.75), (5.8, 3.15), (6.2, 4.75),
              (6.5, 2.35), (6.9, 2.15), (7.1, 1.25), (7.5, 3.15), (7.8, 2.85), (8.1, 1.65), (8.4, 2.25), (8.8, 2.15),
              (9.1, 2.85), (9.4, 1.05), (9.6, 3.85), (10, 1.15), (10.4, 0.75), (10.8, 1.95), (11, 0.95), (11.5, 0.75),
              (11.9, 2.85), (12.2, 1.55), (12.6, 1.15), (12.9, 0.95), (13.3, 2.15), (13.6, 1.15), (14.1, 3.05), (14.5, 0.95),
              (14.8, 1.35), (15.3, 0.65), (15.8, 0.55), (16.3, 0.15), (16.7, 0.25), (17.2, 0.35), (17.7, 0.95), (18.2, 1.35),
              (18.6, 0.85), (19, 0.55), (19.3, 1.65), (19.7, 1.15), (20, 1.85), (20.5, 0.85), (21, 1.55), (21.4, 2.55),
              (21.7, 3.35), (22, 4.25), (22.3, 3.25), (22.7, 3.15), (23.1, 2.55), (23.4, 5.4), (23.8, 5.3), (24.3, 5.4),
              (24.9, 5.7), (25.3, 5.3), (25.7, 3.55), (26.1, 3.95), (26.4, 4.75), (26.9, 4.65), (27.3, 4.25), (27.6, 3.55),
              (28.1, 4.25), (28.6, 3.85), (29, 3.05), (29.6, 3.65), (30, 2.55), (30.5, 2.25), (30.9, 2.85), (31.3, 3.45),
              (31.7, 3.55), (32.1, 3.85), (32.5, 4.45), (33, 5.75), (33.3, 4.55), (33.9, 6.1), (34.3, 5.15), (34.5, 3.85),
              (34.7, 4.95), (35.2, 5.05), (35.7, 4.55), (36.2, 4.05), (36.5, 3.75), (36.8, 2.65), (37.2, 3.25), (37.4, 1.65),
              (37.8, 1.25), (38.1, 2.25), (38.4, 1.55), (38.7, 2.55), (39.1, 3.85), (39.6, 4.15), (40, 3.95), (40.5, 3.55),
              (40.9, 3.35), (41.2, 3.05), (41.4, 3.15), (41.7, 5.75), (41.9, 6.9), (42.2, 6.2), (42.5, 4.9), (42.8, 6.0),
              (43, 4.5), (43.3, 6.6), (43.6, 7.7), (43.9, 8.9), (44.3, 9.2), (44.6, 11.2), (45, 11.2), (45.2, 11.7),
              (45.6, 11.6), (46, 11.2), (46.3, 11.9), (46.7, 11.8), (47.2, 12.0), (47.6, 12.1), (48.1, 11.9), (48.4, 11.2),
              (48.9, 11.3), (49.2, 10.8), (49.5, 11.0), (49.7, 9.8), (49.9, 10.2), (50.2, 9.6), (50.5, 9.2), (50.9, 9.0),
              (51.2, 8.0), (51.4, 7.0), (51.8, 6.6), (52.1, 5.7), (52.4, 4.8), (52.6, 3.4), (52.8, 2.25), (53.3, 1.65),
              (53.8, 2.15), (54.2, 2.75), (54.6, 3.45), (54.9, 3.15), (55.4, 2.55), (55.9, 0.75), (56.2, 2.15), (56.6, 2.15),
              (56.9, 2.75), (57.4, 1.55), (57.9, 1.15), (58.4, 0.25), (58.7, 0.65), (59.1, 2.55), (59.5, 2.55), (59.9, 2.35),
              (60.4, 1.95), (60.6, 2.05), (60.9, 6.3), (61.2, 4.65), (61.6, 2.15), (61.9, 1.35), (62.3, 1.95), (62.6, 2.55),
              (63, 3.15), (63.4, 3.35), (63.9, 3.75), (64.3, 3.35), (64.7, 3.95), (65.1, 5.05), (65.6, 4.55), (66.1, 4.05),
              (66.4, 1.85), (66.6, 2.35), (66.9, 0.55), (67.1, 3.75), (67.4, 3.15), (67.7, 5.15), (68.1, 5.75), (68.5, 6.6),
              (68.9, 8.3), (69.3, 8.0), (69.7, 7.2), (70.1, 6.0), (70.4, 6.8), (70.8, 7.9), (71.1, 6.9), (71.5, 8.1),
              (72, 7.6)]
sbp_d01_ysu = [(0, 5.0), (1.1, 4.8), (2, 4.5), (3.5, 4.4), (4.6, 5.0), (5.8, 5.2), (7.3, 5.2), (8.4, 5.3), (9.6, 5.2),
               (10.6, 5.0), (11.5, 4.6), (12.9, 4.3), (14.6, 4.0), (15.8, 3.6), (16.7, 3.1), (17.7, 2.25), (18.4, 1.25),
               (19.3, 2.65), (20.3, 2.75), (21.7, 2.7), (22.7, 2.75), (23.4, 3.1), (24.3, 3.25), (25.4, 3.35), (26.4, 3.1),
               (27.6, 3.05), (28.6, 2.75), (29.5, 2.35), (30.5, 2.15), (31.4, 1.95), (32.4, 2.15), (33.6, 3.6),
               (35.2, 3.55), (36, 3.75), (37.7, 4.0), (38.7, 4.3), (39.7, 3.9), (40.6, 5.4), (41.7, 5.9), (42.6, 6.6),
               (43.7, 7.6), (44.8, 8.4), (45.7, 9.2), (46.7, 10.0), (47.6, 10.4), (48.7, 10.4), (49.6, 7.6), (50.6, 6.2),
               (51.6, 5.2), (52.7, 2.9), (53.8, 0.45), (54.7, 1.55), (55.8, 1.8), (56.8, 1.65), (57.7, 2.75), (58.7, 3.75),
               (59.8, 2.65), (60.7, 3.05), (61.8, 3.55), (62.8, 2.15), (63.8, 1.25), (64.8, 2.55), (65.9, 4.95),
               (66.8, 5.45), (67.8, 6.05), (68.9, 6.45), (69.9, 6.6), (70.8, 6.65), (72, 6.55)]

prb_d02_ysu = [(0, 1.4), (0.3, 1.5), (0.6, 4.4), (1, 2.3), (1.2, 2.3), (1.4, 4.5), (1.7, 4.7), (1.9, 3.4), (2.2, 2.9),
               (2.4, 3.9), (2.6, 4.9), (3, 4.6), (3.3, 4.5), (3.6, 4.0), (3.8, 3.1), (4.2, 1.8), (4.4, 1.1), (4.6, 0.5),
               (5, 0.3), (5.4, 0.5), (5.7, 0.25), (6.1, 0.2), (6.5, 0.2), (7, 0.4), (7.5, 0.2), (8, 0.4), (8.4, 0.35),
               (9.1, 0.35), (9.9, 0.5), (10.6, 0.7), (11.3, 1.0), (12, 1.1), (12.7, 1.2), (13.4, 1.1), (14.1, 0.9),
               (14.8, 0.9), (15.5, 0.4), (16.3, 0.9), (17, 1.4), (17.7, 1.9), (18.4, 2.3), (18.9, 2.4), (19.6, 2.0),
               (20.3, 1.8), (20.8, 1.7), (21.2, 1.2), (21.6, 1.1), (21.9, 1.6), (22.3, 3.8), (22.6, 4.1), (23.1, 3.9),
               (23.4, 3.1), (23.8, 3.6), (24.2, 3.3), (24.5, 2.6), (24.9, 2.2), (25.3, 3.1), (25.6, 3.3), (26, 2.8),
               (26.5, 2.1), (26.9, 1.5), (27.4, 1.3), (27.7, 1.6), (28.1, 1.3), (28.6, 2.1), (29, 1.7), (29.5, 1.0),
               (30, 0.7), (30.5, 1.1), (30.9, 0.8), (31.4, 0.6), (31.9, 1.7), (32.4, 2.0), (32.8, 1.9), (33.3, 1.3),
               (33.8, 0.9), (34.3, 1.1), (34.7, 2.5), (35.1, 4.1), (35.4, 5.7), (35.8, 6.9), (36.2, 7.6), (36.6, 6.9),
               (37, 6.2), (37.3, 6.4), (37.7, 5.6), (38, 6.1), (38.4, 5.6), (38.6, 6.2), (39, 4.9), (39.3, 5.7), (39.6, 6.6),
               (39.9, 7.3), (40.3, 7.2), (40.6, 8.0), (41, 8.0), (41.3, 8.1), (41.7, 8.3), (41.9, 8.2), (42.3, 8.6),
               (42.6, 8.4), (43, 8.3), (43.3, 7.9), (43.7, 7.4), (44.2, 7.1), (44.8, 7.1), (45.2, 7.5), (45.7, 7.4),
               (46.2, 7.6), (46.7, 7.9), (47.1, 8.7), (47.6, 9.1), (48.1, 9.5), (48.4, 9.1), (48.8, 8.0), (49, 6.4),
               (49.3, 4.5), (49.5, 5.9), (50, 6.7), (50.3, 5.9), (50.7, 5.9), (51, 4.3), (51.4, 4.7), (51.8, 3.9),
               (52.1, 1.1), (52.4, 0.3), (52.8, 1.0), (53.2, 0.6), (53.5, 2.6), (54, 2.3), (54.5, 2.6), (55, 2.7),
               (55.4, 2.5), (55.9, 2.9), (56.4, 2.0), (56.9, 3.4), (57.3, 2.2), (57.7, 1.8), (58, 2.1), (58.5, 1.7),
               (59, 2.3), (59.5, 2.9), (59.9, 2.3), (60.3, 2.1), (60.7, 2.7), (61, 3.6), (61.4, 6.5), (61.8, 5.5),
               (62.2, 4.4), (62.6, 3.6), (63.1, 3.5), (63.6, 4.2), (64, 3.8), (64.5, 3.8), (65, 4.1), (65.4, 4.7),
               (65.9, 4.4), (66.4, 4.3), (66.9, 4.5), (67.4, 5.1), (67.9, 4.7), (68.3, 6.0), (68.8, 4.9), (69.3, 4.8),
               (69.6, 5.2), (69.9, 3.8), (70.2, 3.7), (70.6, 5.1), (71, 4.5), (71.4, 4.3), (72, 4.1)]
prb_d02_3d = [(0, 1.1), (0.3, 1.3), (0.6, 4.1), (1, 4.5), (1.3, 3.1), (1.7, 4.1), (1.9, 4.2), (2.2, 3.8), (2.6, 4.5),
              (3, 3.8), (3.3, 3.4), (3.7, 2.7), (3.9, 1.7), (4.2, 0.7), (4.5, 1.1), (4.9, 1.4), (5.2, 0.8), (5.6, 1.7),
              (6, 1.7), (6.3, 1.1), (6.8, 1.8), (7.3, 1.3), (7.6, 2.9), (8, 2.1), (8.4, 2.5), (8.9, 2.4), (9.4, 2.7),
              (9.9, 2.5), (10.3, 2.3), (10.7, 2.8), (11, 2.5), (11.5, 2.1), (11.9, 2.8), (12.2, 2.5), (12.7, 3.0),
              (13.2, 2.7), (13.6, 1.9), (14.1, 1.7), (14.6, 0.9), (15.1, 0.7), (15.7, 0.1), (16, 0.7), (16.5, 0.8),
              (17, 0.6), (17.4, 0.7), (17.9, 0.8), (18.4, 1.6), (18.9, 2.3), (19.3, 1.8), (19.8, 1.5), (20.3, 1.8),
              (20.8, 1.1), (21.2, 0.9), (21.7, 1.1), (22.2, 1.3), (22.7, 1.4), (23.1, 1.2), (23.6, 2.5), (24.1, 2.4),
              (24.5, 2.7), (25, 3.5), (25.5, 3.6), (26, 4.0), (26.2, 3.4), (26.7, 2.1), (27.2, 1.7), (27.6, 1.3),
              (28.1, 1.1), (28.6, 1.9), (29, 2.0), (29.4, 2.4), (29.8, 1.5), (30.2, 1.7), (30.7, 2.1), (31.2, 1.3),
              (31.7, 2.7), (32.1, 1.9), (32.6, 2.1), (33.1, 1.6), (33.6, 0.8), (34, 0.7), (34.5, 1.1), (35, 2.6),
              (35.3, 5.3), (35.7, 6.1), (36.1, 6.9), (36.4, 7.5), (36.7, 7.2), (37.1, 7.4), (37.4, 7.6), (37.8, 6.4),
              (38, 6.9), (38.3, 5.1), (38.6, 5.9), (39, 5.6), (39.3, 6.0), (39.7, 6.5), (40, 6.8), (40.4, 6.6), (40.7, 7.2),
              (41.1, 7.7), (41.4, 8.6), (41.8, 7.9), (42.2, 8.1), (42.4, 6.6), (42.8, 8.8), (43.1, 7.5), (43.5, 9.1),
              (43.8, 7.8), (44.2, 7.9), (44.4, 7.6), (44.8, 8.8), (45.1, 7.7), (45.5, 8.6), (45.8, 7.9), (46.2, 7.8),
              (46.7, 8.1), (47, 7.9), (47.4, 7.5), (47.7, 8.9), (48.1, 8.1), (48.5, 7.5), (48.8, 8.2), (49.2, 7.1),
              (49.7, 6.8), (50, 6.3), (50.3, 5.1), (50.7, 3.6), (51, 3.8), (51.4, 3.5), (51.8, 2.1), (52.1, 2.7),
              (52.4, 3.5), (52.8, 2.7), (53.2, 1.6), (53.5, 2.3), (53.9, 2.5), (54.2, 2.3), (54.7, 2.9), (55.2, 2.3),
              (55.7, 3.4), (56.2, 3.2), (56.5, 2.1), (56.9, 1.9), (57.2, 2.5), (57.6, 2.5), (57.9, 2.7), (58.4, 2.5),
              (58.9, 2.4), (59.3, 4.4), (59.8, 3.3), (60.2, 2.9), (60.6, 3.3), (61, 2.8), (61.4, 5.9), (61.7, 7.0),
              (62.1, 5.8), (62.5, 3.6), (63.1, 2.2), (63.6, 3.5), (64, 3.5), (64.5, 3.4), (65, 4.5), (65.5, 5.3),
              (66, 6.9), (66.4, 4.8), (66.7, 6.1), (67.1, 3.0), (67.6, 6.5), (67.8, 4.9), (68.1, 3.0), (68.5, 4.1),
              (68.8, 3.9), (69.3, 2.2), (69.6, 4.2), (70, 4.7), (70.2, 3.3), (70.6, 4.8), (70.8, 5.2), (71.4, 2.0),
              (72, 4.1)]
prb_d01_ysu = [(0, 2.2), (0.6, 2.8), (1.2, 3.3), (1.7, 2.8), (2.2, 2.5), (3.2, 2.4), (3.9, 2.2), (4.6, 1.9), (5.4, 1.9),
               (6.1, 2.0), (7.3, 2.5), (8.7, 2.8), (10.1, 3.0), (11.5, 3.1), (12.9, 3.0), (14.4, 3.0), (15.1, 2.8),
               (16, 2.3), (17, 2.3), (17.9, 2.5), (18.6, 2.5), (19.3, 2.2), (20.3, 1.8), (20.8, 2.1), (21.2, 2.9),
               (21.9, 3.7), (22.4, 4.4), (23.1, 4.2), (24.1, 3.5), (24.8, 3.1), (25.5, 3.2), (26.2, 2.8), (27.2, 2.1),
               (28.3, 1.7), (29.5, 1.6), (30.7, 1.6), (31.9, 1.7), (33.3, 2.1), (34.3, 2.0), (35, 1.5), (35.6, 0.9),
               (36.2, 2.6), (36.6, 4.2), (37.7, 4.3), (38.6, 3.8), (39.7, 2.8), (40.6, 5.2), (41.7, 5.6), (42.6, 6.2),
               (43.7, 7.0), (44.6, 7.8), (45.6, 8.7), (46.7, 8.9), (47.6, 9.2), (48.7, 9.2), (49.6, 5.5), (50.6, 5.1),
               (51.8, 1.9), (52.7, 2.5), (53.8, 2.9), (54.7, 3.1), (55.7, 3.0), (56.8, 2.9), (57.7, 2.3), (58.7, 2.1),
               (59.8, 2.1), (60.9, 1.2), (61.8, 1.0), (62.8, 1.1), (63.8, 1.8), (64.8, 2.4), (65.9, 3.6), (66.8, 4.4),
               (67.9, 5.2), (68.8, 4.9), (69.9, 5.1), (70.8, 5.1), (72, 4.7)]

obs = {
    "MRY": (mry_obs_hr, mry_obs_lo, mry_obs_hi, mry_obs_gust),
    "SNS": (sns_obs_hr, sns_obs_lo, sns_obs_hi, sns_obs_gust),
    "WVI": (wvi_obs_hr, wvi_obs_lo, wvi_obs_hi, wvi_obs_gust),
    "SBP": (sbp_obs_hr, sbp_obs_lo, sbp_obs_hi, sbp_obs_gust),
    "PRB": (prb_obs_hr, prb_obs_lo, prb_obs_hi, prb_obs_gust),
}
models = {
    "MRY": [mry_d02_ysu, mry_d02_3d, mry_d01_ysu],
    "SNS": [sns_d02_ysu, sns_d02_3d, sns_d01_ysu],
    "WVI": [wvi_d02_ysu, wvi_d02_3d, wvi_d01_ysu],
    "SBP": [sbp_d02_ysu, sbp_d02_3d, sbp_d01_ysu],
    "PRB": [prb_d02_ysu, prb_d02_3d, prb_d01_ysu],
}


def obs_points(hr, lo, hi, gust):
    # each hourly bin holds a few reports, drawn at every whole knot in the range
    dots, plus = [], []
    for h, a, b, g in zip(hr, lo, hi, gust):
        for f in (0.125, 0.375, 0.625, 0.875):
            for k in range(a, b + 1):
                dots.append((h + f, k * KT))
        # gusts were logged less often than the sustained wind
        for f in (0.25, 0.75):
            for k in range(b + 1, g + 1):
                plus.append((h + f, k * KT))
    return pd.DataFrame(dots, columns=["t", "v"]), pd.DataFrame(plus, columns=["t", "v"])


sns.set_style("whitegrid", {"grid.color": "#dcdcdc", "axes.edgecolor": "#222222"})
plt.rcParams["font.family"] = ["DejaVu Sans"]

fig, axes = plt.subplots(5, 1, figsize=(18.52, 24.86), dpi=100, sharex=True)
fig.subplots_adjust(left=0.0574, right=0.998, top=0.982, bottom=0.053, hspace=0.2)

for ax, st, title in zip(axes, stations, titles):
    dots, plus = obs_points(*obs[st])
    sns.scatterplot(data=plus, x="t", y="v", marker="+", color="k", s=90, linewidth=1.0, ax=ax, zorder=2)
    sns.scatterplot(data=dots, x="t", y="v", marker="o", color="k", s=85, edgecolor="none", ax=ax, zorder=2)
    for ser, name, col, lw in zip(models[st], series_names, series_colors, [3.6, 3.2, 3.6]):
        t, v = zip(*ser)
        sns.lineplot(x=list(t), y=list(v), color=col, lw=lw, ax=ax, zorder=3, sort=False,
                     estimator=None, label=name if st == "WVI" else None, legend=(st == "WVI"))
    ax.set_xlim(0, 72)
    ax.set_ylim(0, 12)
    ax.set_yticks([0, 2, 4, 6, 8, 10])
    ax.tick_params(axis="y", labelsize=29, length=0, pad=6)
    ax.set_ylabel("WSPD [m/s]", fontsize=29, labelpad=4)
    ax.set_xlabel("")
    ax.set_title(title, fontsize=30, pad=5)
    ax.grid(True, lw=1.4)
    for sp in ax.spines.values():
        sp.set_linewidth(2.2)
    ax.spines["top"].set_color("#666666")

axes[2].legend(loc="upper left", fontsize=26, handlelength=2.0, framealpha=0.8,
               edgecolor="#f2f2f2", borderaxespad=0.5)

axes[-1].set_xticks(xtick_hours)
axes[-1].set_xticklabels(xtick_labels, rotation=45, ha="center", fontsize=26)
axes[-1].tick_params(axis="x", length=4, pad=2)

fig.savefig("out.png", dpi=100)
